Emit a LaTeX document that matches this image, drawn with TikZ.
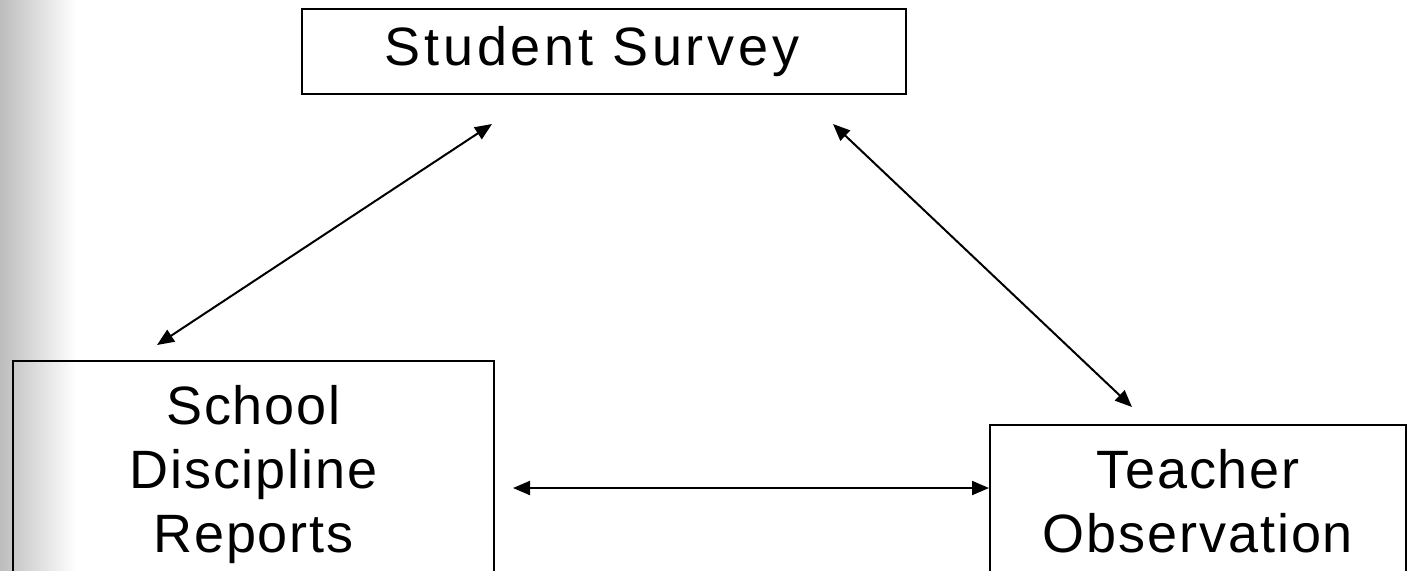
\documentclass[tikz,border=0pt]{standalone}
\usepackage{fontspec}
\setmainfont{Liberation Sans}
\newfontfamily\boxfont[LetterSpace=3.5]{Liberation Sans}
\newfontfamily\wideboxfont[LetterSpace=7]{Liberation Sans}
\usetikzlibrary{arrows.meta}

\begin{document}
\begin{tikzpicture}[x=0.5pt,y=-0.5pt]

  \definecolor{edgecol}{rgb}{0.74,0.74,0.74}

  \tikzset{
      boxstl/.style={draw,line width=1pt,inner sep=0pt,align=center,
        font=\boxfont\fontsize{27}{32}\selectfont},
      linkstl/.style={line width=1pt,
        {Triangle[length=8.5pt,width=7pt]}-{Triangle[length=8.5pt,width=7pt]}},
    }

  \useasboundingbox (0,0) rectangle (1412,570);
  \clip (0,0) rectangle (1412,570);

  %% grey band on the left edge.
  \shade[left color=edgecol,right color=white] (0,0) rectangle (76,570);

 \coordinate (cs) at (604,51.5);
 \coordinate (cd) at (253.5,475);
 \coordinate (ct) at (1198,501.5);

  % text sits a little left of the middle.
  \node[boxstl,font=\wideboxfont\fontsize{27}{32}\selectfont,
    minimum width=302pt,minimum height=42.5pt] (survey) at (cs) {Student Survey\hspace{12pt}};

  % these two run off the bottom of the page.
  \node[boxstl,minimum width=240.5pt,minimum height=114pt] (discip) at (cd) {School\\Discipline\\Reports};
  \node[boxstl,minimum width=208pt,minimum height=76.5pt] (teacher) at (ct) {Teacher\\Observation};

  \draw[linkstl] ([shift={(191,29)}]survey.south west) -- ([shift={(145,-15)}]discip.north west);
  \draw[linkstl] ([shift={(-74,29)}]survey.south east) -- ([shift={(143,-17)}]teacher.north west);
  \draw[linkstl] ([shift={(18,128)}]discip.north east) -- ([shift={(0,64)}]teacher.north west);

\end{tikzpicture}
\end{document}
